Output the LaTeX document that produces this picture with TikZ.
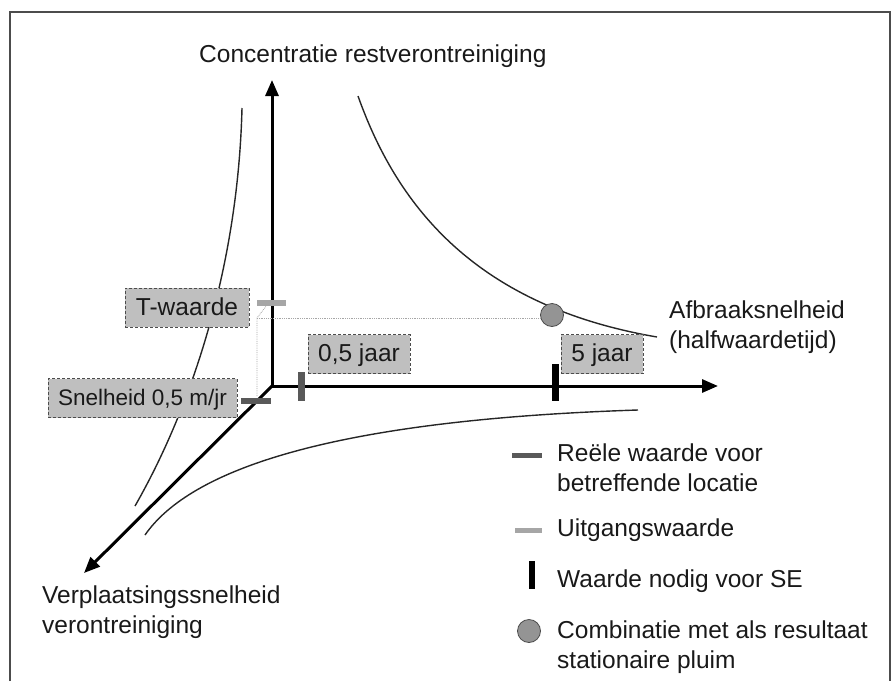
\documentclass[tikz,border=0pt]{standalone}
\usepackage{fontspec}
\setmainfont{Liberation Sans}
\usetikzlibrary{arrows.meta}

\tikzset{
	axis/.style={line width=3pt, -{Triangle[length=16pt,width=13pt]}},
	curve/.style={line width=1.4pt, black!85},
	valbox/.style={draw=black!70, densely dashed, fill=black!25, line width=0.8pt,
		minimum height=39pt, inner sep=0pt, text height=19pt, text depth=4pt,
		font=\fontsize{24.5}{30}\selectfont, text=black!90},
	reeel/.style={line width=6pt, black!65},
	uitgang/.style={line width=6pt, black!35},
	nodig/.style={line width=7pt, black},
	guide/.style={densely dotted, black!35, line width=0.8pt},
	combi/.style={circle, draw=black!70, fill=black!42, line width=0.8pt, minimum size=23pt, inner sep=0pt},
	lbl/.style={font=\fontsize{24.5}{30}\selectfont, align=left, inner sep=0pt, text=black!90},
}

\begin{document}
\begin{tikzpicture}[x=1pt, y=-1pt]
	\useasboundingbox (0,0) rectangle (895,681);
	\draw[black!70, line width=1.5pt] (10,681) -- (10,12) -- (890,12) -- (890,681);

	% axes
	\coordinate (O) at (272,386);
	\coordinate (ytip) at (272,80);
	\coordinate (xtip) at (718,386);
	\coordinate (ztip) at (84,573);
	\draw[axis] (O) -- (ytip);
	\draw[axis] (O) -- (xtip);
	\draw[axis] (O) -- (ztip);

	% curves
	\draw[curve] (242,108) .. controls (238,270) and (190,410) .. (135,506);
	\draw[curve] (358,96) .. controls (395,200) and (470,305) .. (657,337);
	\draw[curve] (145,535) .. controls (190,470) and (330,420) .. (638,410);

	% values
	\node[combi] (combi) at (552,315) {};
	\coordinate (hoek) at (257,318);
	\draw[guide] (267,305) -- (hoek) -- (257,396);
	\draw[guide] (hoek) -- (hoek -| combi.west);
	\draw[uitgang] (257,303) -- (286,303);
	\draw[reeel] (241,401) -- (271,401);
	\draw[reeel, line width=7pt] (301,372) -- (301,401);
	\draw[nodig] (555,364) -- (555,401);

	\node[valbox, minimum width=124pt] (twaarde) at (187,307.5) {T-waarde};
	\node[valbox, minimum width=189pt, font=\fontsize{22.5}{27}\selectfont] (snelheid) at (142.5,398) {Snelheid 0,5 m/jr};
	\node[valbox, minimum width=102pt] (halfjaar) at (359,354) {0,5 jaar};
	\node[valbox, minimum width=82pt] (vijfjaar) at (602,354) {5 jaar};

	% axis labels (base = last line)
	\node[lbl, anchor=base west] (conc) at (199,62) {Concentratie restverontreiniging};
	\node[lbl, anchor=base west] (afbraak) at (669,348) {Afbraaksnelheid\\(halfwaardetijd)};
	\node[lbl, anchor=base west] (verpl) at (42,633) {Verplaatsingssnelheid\\verontreiniging};

	% legend
	\draw[reeel, line width=5pt] (512,455) -- (542,455);
	\node[lbl, anchor=base west] (lreeel) at (557,491) {Reële waarde voor\\betreffende locatie};
	\draw[uitgang, line width=5pt] (515,530) -- (542,530);
	\node[lbl, anchor=base west] (luitgang) at (557,536) {Uitgangswaarde};
	\draw[nodig, line width=6pt] (532,561) -- (532,589);
	\node[lbl, anchor=base west] (lnodig) at (557,587) {Waarde nodig voor SE};
	\node[combi] (lcombi) at (529,631) {};
	\node[lbl, anchor=base west] (lcombitxt) at (557,668) {Combinatie met als resultaat\\stationaire pluim};
\end{tikzpicture}
\end{document}
